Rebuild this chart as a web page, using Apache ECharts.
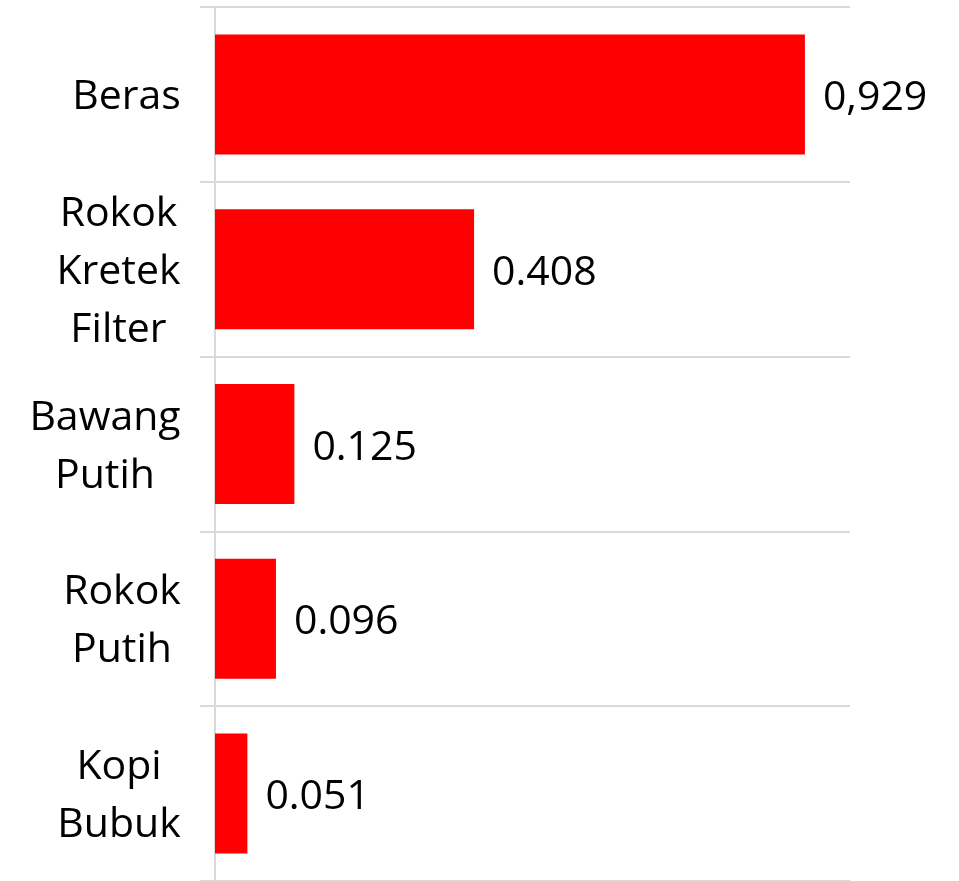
<!DOCTYPE html>
<html>
<head>
<meta charset="utf-8">
<script src="https://cdn.jsdelivr.net/npm/echarts@6/dist/echarts.min.js"></script>
<style>
  html, body { margin: 0; padding: 0; background: #fff; }
  #chart { width: 959px; height: 881px; }
</style>
</head>
<body>
<div id="chart"></div>
<script>
// data
const categories = ['Beras', 'Rokok\nKretek\nFilter', 'Bawang\nPutih', 'Rokok\nPutih', 'Kopi\nBubuk'];
const values = [0.929, 0.408, 0.125, 0.096, 0.051];
// the first label uses a comma in the original
const valueLabels = ['0,929', '0.408', '0.125', '0.096', '0.051'];

const font = '"Open Sans", sans-serif';
const fontSize = 41;
const gray = '#d9d9d9';

// multi-line category labels are centred line by line, block kept right-aligned
const ctx = document.createElement('canvas').getContext('2d');
ctx.font = fontSize + 'px ' + font;
const rich = {};
categories.forEach((c, i) => {
  const w = Math.max(...c.split('\n').map(s => ctx.measureText(s).width));
  rich['c' + i] = {
    width: Math.ceil(w),
    align: 'center',
    color: '#000',
    fontFamily: font,
    fontSize: fontSize,
    lineHeight: 58,
  };
});

const myChart = echarts.init(document.getElementById('chart'));
myChart.setOption({
  animation: false,
  grid: {
    left: 215,
    right: 109,
    top: 7,
    height: 879,
    containLabel: false,
  },
  xAxis: {
    type: 'value',
    min: 0,
    max: 1,
    show: false,
  },
  yAxis: {
    type: 'category',
    inverse: true,
    data: categories,
    axisLine: { show: true, lineStyle: { color: gray, width: 2 } },
    axisTick: { show: true, length: 15, lineStyle: { color: gray, width: 2 } },
    splitLine: { show: true, lineStyle: { color: gray, width: 2 } },
    axisLabel: {
      margin: 34,
      align: 'right',
      padding: [6, 0, 0, 0],
      formatter: (val, idx) => val.split('\n').map(s => '{c' + idx + '|' + s + '}').join('\n'),
      rich: rich,
    },
  },
  series: [{
    type: 'bar',
    data: values,
    barWidth: 120,
    itemStyle: { color: '#ff0000' },
    label: {
      show: true,
      position: 'right',
      distance: 18,
      color: '#000',
      fontFamily: font,
      fontSize: fontSize,
      offset: [0, 4],
      formatter: p => valueLabels[p.dataIndex],
    },
  }],
});
</script>
</body>
</html>
